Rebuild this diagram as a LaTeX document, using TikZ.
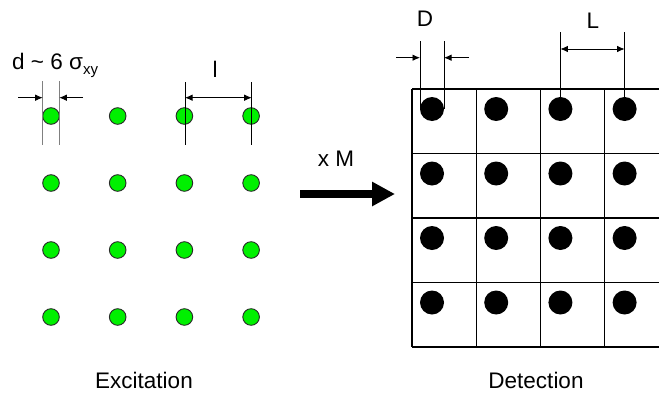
\documentclass[tikz,border=0pt]{standalone}
\usepackage{fontspec}
\setmainfont{Liberation Sans}
\usetikzlibrary{arrows.meta}
\definecolor{dotgreen}{RGB}{0,240,0}
\definecolor{dotedge}{RGB}{40,40,40}
\begin{document}
\begin{tikzpicture}[x=1pt,y=-1pt,
  lbl/.style={inner sep=0pt,anchor=base,font=\fontsize{22.5}{26}\selectfont},
  gdot/.style={circle,fill=dotgreen,draw=dotedge,line width=0.9pt,minimum size=16.6pt,inner sep=0pt},
  bdot/.style={circle,fill=black,minimum size=24pt,inner sep=0pt},
  dimline/.style={line width=0.8pt},
  dimarrow/.style={line width=0.8pt,-{Latex[length=7.5pt,width=6.5pt]}},
  dimboth/.style={line width=0.8pt,{Latex[length=7.5pt,width=6.5pt]}-{Latex[length=7.5pt,width=6.5pt]}},
  gridline/.style={line width=1.4pt},
  bigarrow/.style={line width=7.5pt,-{Triangle[length=23pt,width=23pt]}}]
\useasboundingbox (0,0) rectangle (659,394);
% excitation dots
\foreach \i in {1,...,4}{
  \foreach \j in {1,...,4}{
    \node[gdot] (g\j\i) at ({51+66.7*(\i-1)},{116+67*(\j-1)}) {};
  }
}
% detection grid
\foreach \y [count=\k] in {89,153.5,218,282.5,347}{
  \coordinate (hL\k) at (412,\y);
  \coordinate (hR\k) at (659,\y);
  \draw[gridline] (hL\k) -- (hR\k);
}
\foreach \x [count=\k] in {412,476.5,540.5,604.5}{
  \coordinate (vT\k) at (\x,89);
  \coordinate (vB\k) at (\x,347);
  \draw[gridline] (vT\k) -- (vB\k);
}
\foreach \i in {1,...,4}{
  \foreach \j in {1,...,4}{
    \node[bdot] (b\j\i) at ({432+64.2*(\i-1)},{109+64.5*(\j-1)}) {};
  }
}
% d dimension
\coordinate (d1t) at (42.7,81);
\coordinate (d1b) at (42.7,145);
\coordinate (d2t) at (59.3,81);
\coordinate (d2b) at (59.3,145);
\draw[dimline,gray] (d1t) -- (d1b);
\draw[dimline,gray] (d2t) -- (d2b);
\coordinate (da1) at (18,97.7);
\coordinate (da1e) at (42.7,97.7);
\coordinate (da2) at (83,97.7);
\coordinate (da2e) at (59.3,97.7);
\draw[dimarrow] (da1) -- (da1e);
\draw[dimarrow] (da2) -- (da2e);
\node[lbl,anchor=base west] (dlab) at (12,69) {d \textasciitilde\ 6 σ{\fontsize{15}{15}\selectfont\raisebox{-5pt}{xy}}};
% l dimension
\coordinate (l1t) at (185,82);
\coordinate (l1b) at (185,145);
\coordinate (l2t) at (251.7,82);
\coordinate (l2b) at (251.7,145);
\draw[dimline] (l1t) -- (l1b);
\draw[dimline] (l2t) -- (l2b);
\coordinate (la1) at (185,97.7);
\coordinate (la2) at (251.7,97.7);
\draw[dimboth] (la1) -- (la2);
\node[lbl] (llab) at (215,77) {l};
% D dimension
\coordinate (D1t) at (420,41);
\coordinate (D1b) at (420,109);
\coordinate (D2t) at (444,41);
\coordinate (D2b) at (444,109);
\draw[dimline] (D1t) -- (D1b);
\draw[dimline] (D2t) -- (D2b);
\coordinate (Da1) at (396,57.7);
\coordinate (Da1e) at (420,57.7);
\coordinate (Da2) at (469,57.7);
\coordinate (Da2e) at (444,57.7);
\draw[dimarrow] (Da1) -- (Da1e);
\draw[dimarrow] (Da2) -- (Da2e);
\node[lbl] (Dlab) at (425,26) {D};
% L dimension
\coordinate (L1t) at (560.4,32);
\coordinate (L1b) at (560.4,100);
\coordinate (L2t) at (624.6,32);
\coordinate (L2b) at (624.6,100);
\draw[dimline] (L1t) -- (L1b);
\draw[dimline] (L2t) -- (L2b);
\coordinate (La1) at (560.4,49);
\coordinate (La2) at (624.6,49);
\draw[dimboth] (La1) -- (La2);
\node[lbl] (Llab) at (593,28) {L};
% magnification arrow
\coordinate (arrS) at (300,194);
\coordinate (arrE) at (395,194);
\draw[bigarrow] (arrS) -- (arrE);
\node[lbl] (mlab) at (336,166) {x M};
% captions
\node[lbl] (exc) at (144,388.5) {Excitation};
\node[lbl] (det) at (536,388.5) {Detection};
\end{tikzpicture}
\end{document}
